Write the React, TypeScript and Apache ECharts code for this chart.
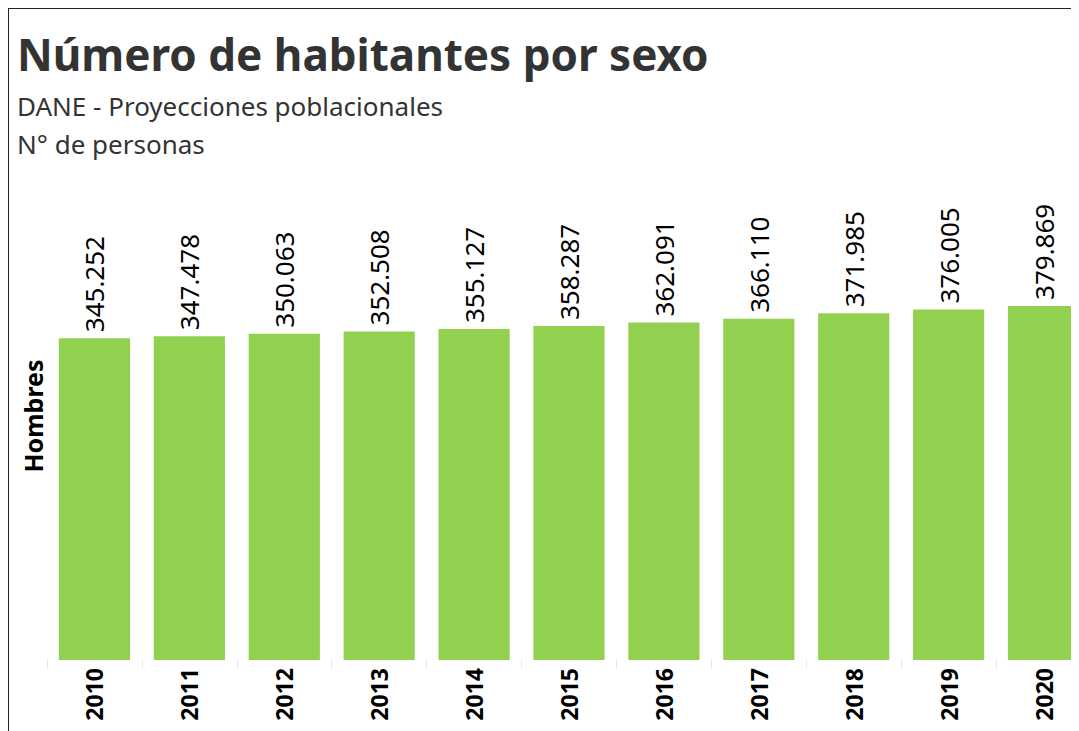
import React, { useEffect, useRef } from "react";
import * as echarts from "echarts";

const years = ["2010", "2011", "2012", "2013", "2014", "2015", "2016", "2017", "2018", "2019", "2020"];
const hombres = [345252, 347478, 350063, 352508, 355127, 358287, 362091, 366110, 371985, 376005, 379869];
const titleText = "Número de habitantes por sexo";
const subtitle1 = "DANE - Proyecciones poblacionales";
const subtitle2 = "N° de personas";
const axisName = "Hombres";

const fmt = (v: number) => v.toLocaleString("en-US").replace(/,/g, ".");

export default function App() {
  const ref = useRef<HTMLDivElement>(null);
  useEffect(() => {
    document.body.style.overflow = "hidden";
    document.documentElement.style.overflow = "hidden";
    const chart = echarts.init(ref.current!, null, { renderer: "svg" });
    const font = "'Noto Sans', 'Open Sans', sans-serif";
    chart.setOption({
      animation: false,
      textStyle: { fontFamily: font },
      title: [
        { text: titleText, left: 8, top: 23, padding: 0, textStyle: { fontSize: 44, fontWeight: "bold", color: "#333", fontFamily: font } },
        { text: subtitle1, left: 8, top: 84, padding: 0, textStyle: { fontSize: 26, fontWeight: "normal", color: "#333", fontFamily: font } },
        { text: subtitle2, left: 8, top: 122, padding: 0, textStyle: { fontSize: 26, fontWeight: "normal", color: "#333", fontFamily: font } },
      ],
      graphic: [
        {
          type: "text",
          x: 24,
          y: 407,
          rotation: Math.PI / 2,
          style: {
            text: axisName,
            fontSize: 25,
            fontWeight: "bold",
            fontFamily: font,
            fill: "#000",
            textAlign: "center",
            textVerticalAlign: "middle",
          },
        },
      ],
      grid: { left: 38, right: 0, top: 185, bottom: 71, containLabel: false, outerBoundsMode: "none" },
      xAxis: {
        type: "category",
        data: years,
        axisLine: { show: false },
        axisTick: { show: true, length: 8, lineStyle: { color: "#e6e6e6", width: 1 } },
        axisLabel: { rotate: 90, fontSize: 23, fontWeight: "bold", color: "#000", margin: 8, fontFamily: font },
      },
      yAxis: {
        type: "value",
        min: 0,
        max: 500000,
        axisLine: { show: false },
        axisTick: { show: false },
        axisLabel: { show: false },
        splitLine: { show: false },
      },
      series: [
        {
          type: "bar",
          data: hombres,
          barWidth: "75%",
          itemStyle: { color: "#92D050" },
          label: {
            show: true,
            position: "top",
            rotate: 90,
            align: "left",
            verticalAlign: "middle",
            distance: 6,
            fontSize: 26,
            color: "#000",
            fontFamily: font,
            formatter: (p: any) => fmt(p.value),
          },
        },
      ],
    });
    return () => chart.dispose();
  }, []);
  return (
    <div
      ref={ref}
      style={{
        width: 1082,
        height: 722,
        borderLeft: "1px solid #222",
        borderTop: "1px solid #222",
      }}
    />
  );
}
